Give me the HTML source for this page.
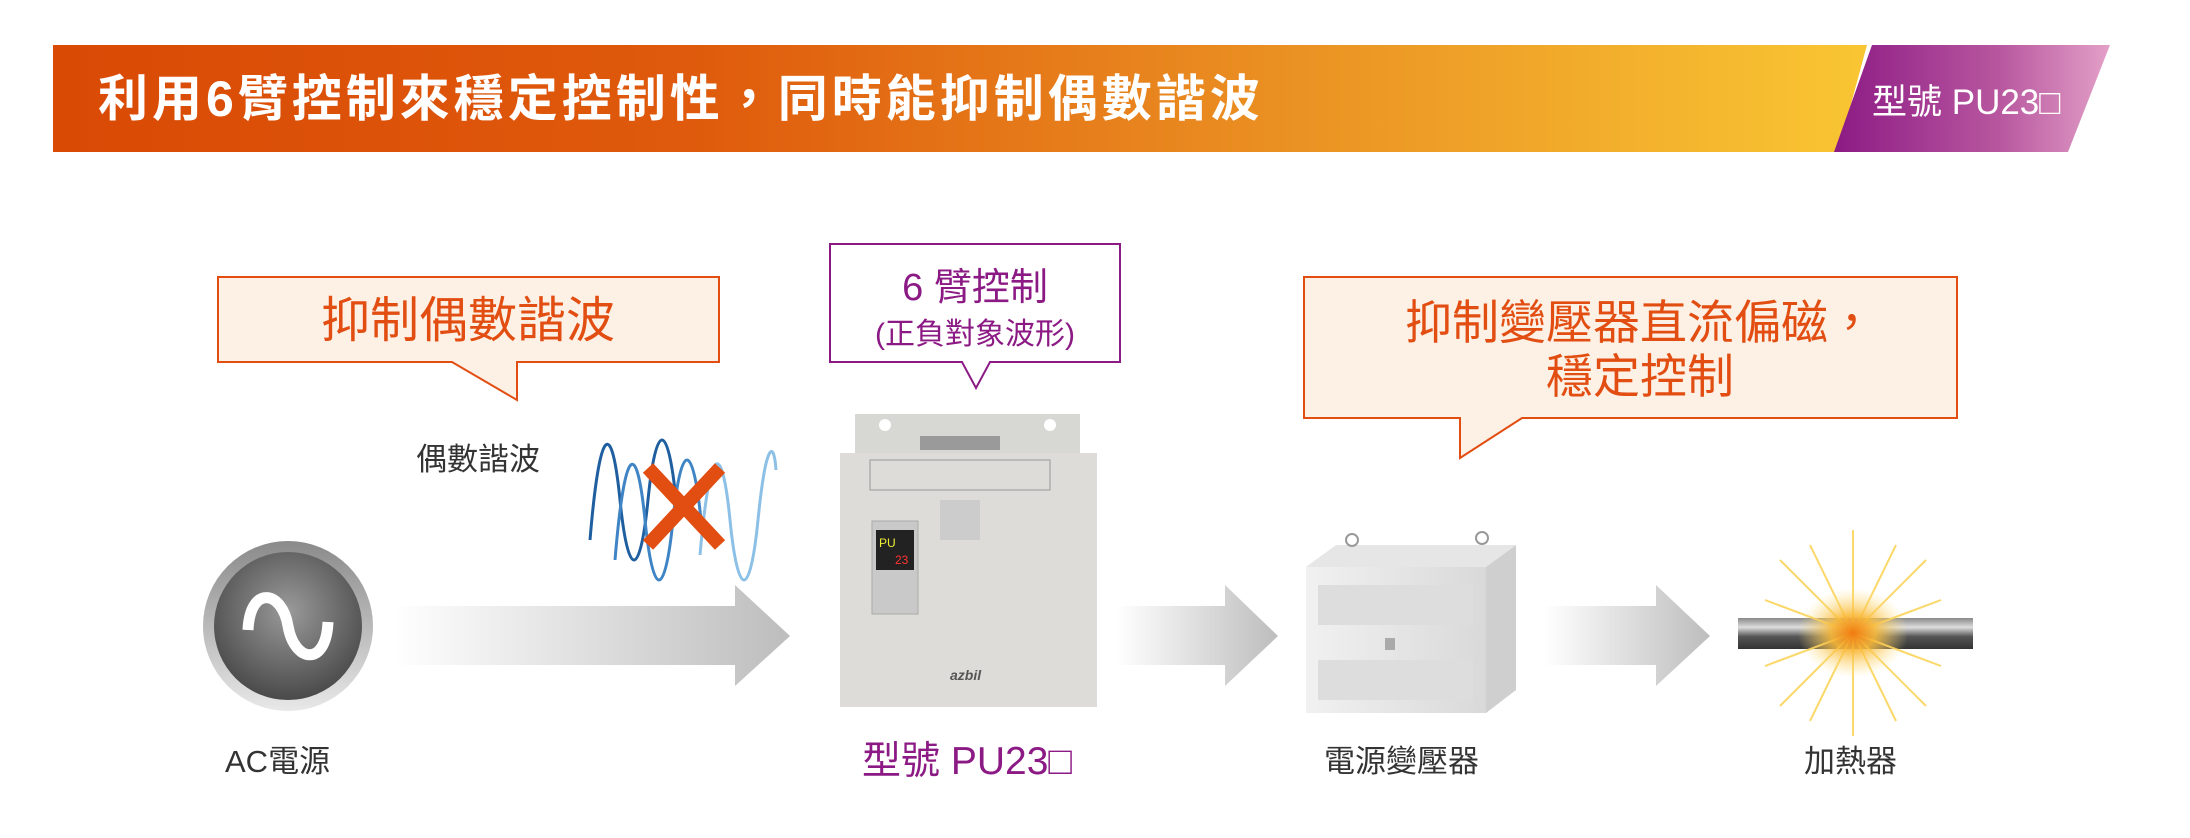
<!DOCTYPE html>
<html><head><meta charset="utf-8"><style>
body{margin:0;background:#fff;width:2190px;height:833px;overflow:hidden;font-family:"Liberation Sans","Noto Sans CJK TC",sans-serif}
</style></head><body>
<svg width="2190" height="833" viewBox="0 0 2190 833" xmlns="http://www.w3.org/2000/svg" font-family="Liberation Sans, Noto Sans CJK TC, sans-serif">
<defs>
<linearGradient id="bn" x1="0" x2="1"><stop offset="0" stop-color="#d94a05"/><stop offset="0.35" stop-color="#df5a0c"/><stop offset="0.7" stop-color="#eb9424"/><stop offset="1" stop-color="#f9c633"/></linearGradient>
<linearGradient id="pp" x1="0" x2="1"><stop offset="0" stop-color="#8c1a84"/><stop offset="0.6" stop-color="#b8579f"/><stop offset="1" stop-color="#e3a0c8"/></linearGradient>
<linearGradient id="ar" x1="0" x2="1"><stop offset="0" stop-color="#fff"/><stop offset="1" stop-color="#bdbdbd"/></linearGradient>
<radialGradient id="ac" cx="0.5" cy="0.4" r="0.6"><stop offset="0" stop-color="#9a9a9a"/><stop offset="1" stop-color="#4a4a4a"/></radialGradient>
<linearGradient id="rim" x1="0" y1="0" x2="0" y2="1"><stop offset="0" stop-color="#8a8a8a"/><stop offset="1" stop-color="#e8e8e8"/></linearGradient>
<linearGradient id="bar" x1="0" y1="0" x2="0" y2="1"><stop offset="0" stop-color="#888"/><stop offset="0.3" stop-color="#ddd"/><stop offset="0.6" stop-color="#555"/><stop offset="1" stop-color="#333"/></linearGradient>
<radialGradient id="glow"><stop offset="0" stop-color="#f07a10"/><stop offset="0.4" stop-color="#f9b93a" stop-opacity="0.9"/><stop offset="1" stop-color="#fde38a" stop-opacity="0"/></radialGradient>
<linearGradient id="tf" x1="0" x2="1"><stop offset="0" stop-color="#f1f1f1"/><stop offset="1" stop-color="#d9d9d9"/></linearGradient>
</defs>
<!-- banner -->
<polygon points="53,45 1867,45 1838,152 53,152" fill="url(#bn)"/>
<polygon points="1872,45 2110,45 2068,152 1834,152" fill="url(#pp)"/>
<text x="98" y="116" font-size="50" font-weight="bold" letter-spacing="4" fill="#fff">利用6臂控制來穩定控制性，同時能抑制偶數諧波</text>
<text x="1872" y="114" font-size="35" fill="#fff">型號 PU23□</text>
<!-- box1 -->
<path d="M218,277 H719 V362 H517 V400 L452,362 H218 Z" fill="#fdf1e6" stroke="#e24e12" stroke-width="2"/>
<text x="468" y="337" font-size="49" fill="#e24e12" text-anchor="middle">抑制偶數諧波</text>
<!-- box2 -->
<path d="M830,244 H1120 V362 H990 L976,388 L962,362 H830 Z" fill="#fff" stroke="#8c1a84" stroke-width="2"/>
<text x="975" y="300" font-size="38" fill="#8c1a84" text-anchor="middle">6 臂控制</text>
<text x="975" y="344" font-size="30" fill="#8c1a84" text-anchor="middle">(正負對象波形)</text>
<!-- box3 -->
<path d="M1304,277 H1957 V418 H1522 L1460,458 V418 H1304 Z" fill="#fdf1e6" stroke="#e24e12" stroke-width="2"/>
<text x="1640" y="339" font-size="47" fill="#e24e12" text-anchor="middle">抑制變壓器直流偏磁，</text>
<text x="1640" y="393" font-size="47" fill="#e24e12" text-anchor="middle">穩定控制</text>
<text x="416" y="470" font-size="31" fill="#333">偶數諧波</text>
<!-- waves -->
<g fill="none" stroke-width="3">
<path d="M590,540 C600,420 612,420 620,500 C628,580 640,580 648,500 C656,420 668,420 676,500" stroke="#1f5fa0"/>
<path d="M615,560 C625,440 637,440 645,520 C653,600 665,600 673,520 C681,440 693,440 701,520" stroke="#3f84c4"/>
<path d="M700,555 C710,440 722,440 730,520 C738,600 750,600 758,520 C766,440 774,440 776,470" stroke="#8cc0e6"/>
</g>
<g stroke="#e24e12" stroke-width="14"><line x1="648" y1="468" x2="720" y2="545"/><line x1="720" y1="468" x2="648" y2="545"/></g>
<!-- AC -->
<circle cx="288" cy="626" r="85" fill="url(#rim)"/>
<circle cx="288" cy="626" r="74" fill="url(#ac)"/>
<path d="M248,630 C250,585 282,590 288,626 C294,662 326,668 328,622" fill="none" stroke="#fff" stroke-width="11"/>
<!-- arrows -->
<polygon points="393,606 735,606 735,585 790,636 735,686 735,665 393,665" fill="url(#ar)"/>
<polygon points="1116,606 1225,606 1225,585 1278,636 1225,686 1225,665 1116,665" fill="url(#ar)"/>
<polygon points="1544,606 1656,606 1656,585 1710,636 1656,686 1656,665 1544,665" fill="url(#ar)"/>
<!-- device -->
<path d="M855,414 H1080 V453 H855 Z" fill="#d7d7d4"/>
<circle cx="885" cy="425" r="6" fill="#fff"/><circle cx="1050" cy="425" r="6" fill="#fff"/>
<rect x="920" y="436" width="80" height="14" fill="#9a9a9a"/>
<rect x="840" y="453" width="257" height="254" fill="#dedcd8"/>
<rect x="870" y="460" width="180" height="30" fill="none" stroke="#999" stroke-width="1"/>
<rect x="872" y="521" width="46" height="93" fill="#c9c9c9" stroke="#aaa"/>
<rect x="876" y="530" width="38" height="40" fill="#222"/>
<text x="879" y="547" font-size="12" fill="#ee3">PU</text><text x="895" y="564" font-size="12" fill="#f33">23</text>
<rect x="940" y="500" width="40" height="40" fill="#ccc"/>
<text x="950" y="680" font-size="14" font-style="italic" font-weight="bold" fill="#555">azbil</text>
<!-- transformer -->
<polygon points="1306,567 1336,545 1516,545 1486,567" fill="#e6e6e6"/>
<polygon points="1486,567 1516,545 1516,690 1486,713" fill="#cfcfcf"/>
<rect x="1306" y="567" width="180" height="146" fill="url(#tf)"/>
<rect x="1318" y="585" width="155" height="40" fill="#ddd"/>
<rect x="1318" y="660" width="155" height="40" fill="#ddd"/>
<rect x="1385" y="638" width="10" height="12" fill="#aaa"/>
<circle cx="1352" cy="540" r="6" fill="none" stroke="#999" stroke-width="2"/><circle cx="1482" cy="538" r="6" fill="none" stroke="#999" stroke-width="2"/>
<!-- heater -->
<rect x="1738" y="618" width="235" height="31" fill="url(#bar)"/>
<g stroke="#fbd45a" stroke-width="2" opacity="0.9">
<line x1="1853" y1="530" x2="1853" y2="736"/><line x1="1780" y1="560" x2="1926" y2="706"/><line x1="1926" y1="560" x2="1780" y2="706"/><line x1="1810" y1="545" x2="1896" y2="721"/><line x1="1896" y1="545" x2="1810" y2="721"/><line x1="1765" y1="600" x2="1941" y2="666"/><line x1="1941" y1="600" x2="1765" y2="666"/>
</g>
<ellipse cx="1853" cy="633" rx="55" ry="45" fill="url(#glow)"/>
<!-- labels -->
<text x="225" y="772" font-size="31" fill="#333">AC電源</text>
<text x="862" y="774" font-size="39" fill="#8c1a84">型號 PU23□</text>
<text x="1324" y="772" font-size="31" fill="#333">電源變壓器</text>
<text x="1804" y="772" font-size="31" fill="#333">加熱器</text>
</svg>
</body></html>
